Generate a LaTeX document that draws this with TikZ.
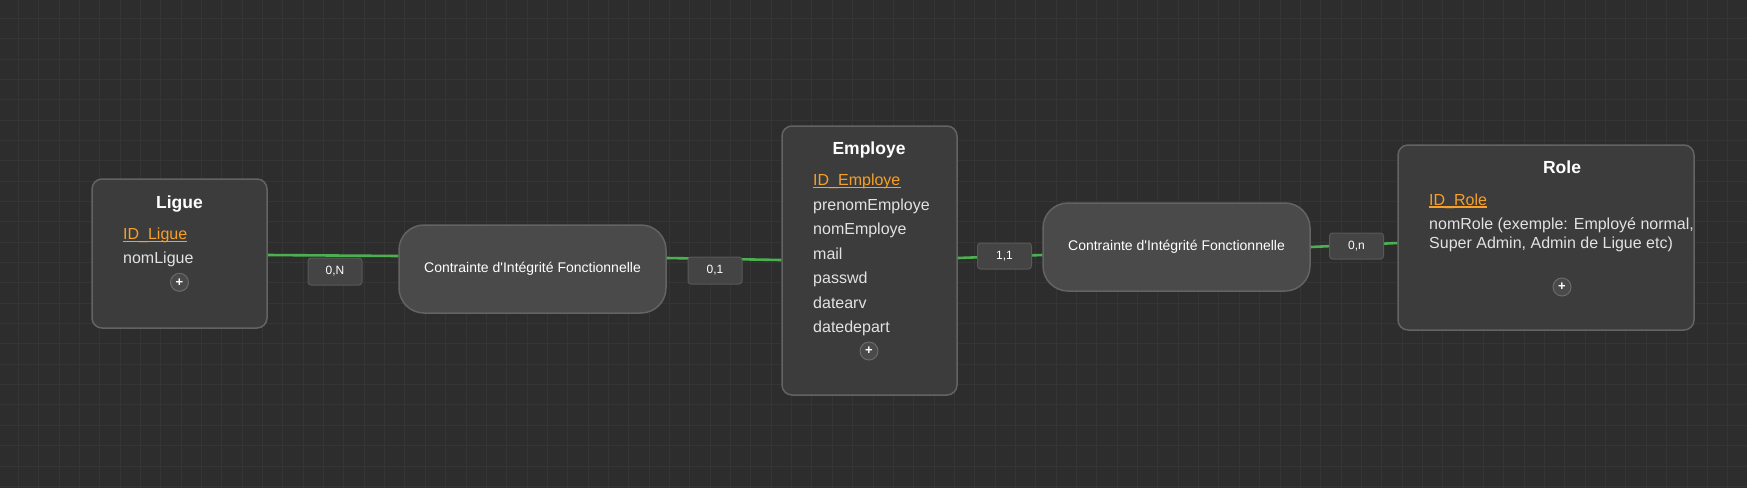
\documentclass[tikz,border=0pt]{standalone}
\usepackage{fontspec}
\setmainfont{Liberation Sans}
\definecolor{bgc}{HTML}{2D2D2D}
\definecolor{gridc}{HTML}{353535}
\definecolor{entfill}{HTML}{3C3C3C}
\definecolor{entdraw}{HTML}{636363}
\definecolor{relfill}{HTML}{4A4A4A}
\definecolor{reldraw}{HTML}{636363}
\definecolor{labfill}{HTML}{444444}
\definecolor{labdraw}{HTML}{585858}
\definecolor{attrc}{HTML}{E2E2E2}
\definecolor{idc}{HTML}{F5A028}
\definecolor{edgec}{HTML}{4CAF50}
\definecolor{plusfill}{HTML}{4A4A4A}
\definecolor{plusdraw}{HTML}{6A6A6A}
\tikzset{
  entity/.style={draw=entdraw, fill=entfill, line width=1.5pt, rounded corners=10pt, inner sep=0pt},
  relbox/.style={draw=reldraw, fill=relfill, line width=1.5pt, rounded corners=25pt, inner sep=0pt,
     minimum width=267pt, minimum height=88pt, text=white, font=\fontsize{14}{17}\selectfont},
  card/.style={draw=labdraw, fill=labfill, line width=1pt, rounded corners=3pt, inner sep=0pt,
     minimum width=54pt, minimum height=27pt, text=white, font=\fontsize{12}{14}\selectfont},
  title/.style={anchor=base, inner sep=0pt, text=white, font=\fontsize{17.5}{20}\selectfont\bfseries},
  attr/.style={anchor=base west, inner sep=0pt, text=attrc, font=\fontsize{16}{19}\selectfont},
  idattr/.style={attr, text=idc},
  idline/.style={draw=idc, line width=1.3pt},
  plusbtn/.style={circle, draw=plusdraw, fill=plusfill, line width=1pt, minimum size=18pt, inner sep=0pt,
     text=white, font=\fontsize{13}{13}\selectfont\bfseries},
  conn/.style={draw=edgec, line width=2.6pt}
}
\begin{document}
\begin{tikzpicture}[x=1pt, y=-1pt]
\useasboundingbox (0,0) rectangle (1747,488);
\fill[bgc] (0,0) rectangle (1747,488);
\foreach \i in {0,...,85} \draw[gridc, line width=1pt] ({18.3+20.35*\i},0) -- ({18.3+20.35*\i},488);
\foreach \j in {0,...,23} \draw[gridc, line width=1pt] (0,{18.3+20.35*\j}) -- (1747,{18.3+20.35*\j});

% boxes
\node[entity, minimum width=175pt, minimum height=149pt] (ligue) at (179.5,253.5) {};
\node[relbox] (c1) at (532.5,269) {Contrainte d\textquotesingle Intégrité Fonctionnelle};
\node[entity, minimum width=175pt, minimum height=269pt] (emp) at (869.5,260.5) {};
\node[relbox] (c2) at (1176.5,247) {Contrainte d\textquotesingle Intégrité Fonctionnelle};
\node[entity, minimum width=296pt, minimum height=185pt] (role) at (1546,237.5) {};

% connectors
\draw[conn] ([yshift=-1.5pt]ligue.east) -- ([yshift=13pt]c1.west);
\draw[conn] ([yshift=11pt]c1.east) -- ([yshift=0.5pt]emp.west);
\draw[conn] ([yshift=2.5pt]emp.east) -- ([yshift=-8pt]c2.west);
\draw[conn] (c2.east) -- ([yshift=-5.5pt]role.west);

% cardinalities
\node[card] (k1) at (335,271.5) {0,N};
\node[card] (k2) at (715,270.5) {0,1};
\node[card, minimum height=26pt] (k3) at (1004.5,256) {1,1};
\node[card, minimum height=26pt] (k4) at (1356.5,246) {0,n};

% Ligue
\node[title] (tl) at (179.5,208) {Ligue};
\node[idattr] (l1) at (123,239.5) {ID\_Ligue};
\draw[idline] ([yshift=-2pt]l1.base west) -- ([yshift=-2pt]l1.base east);
\node[attr] (l2) at (123,263) {nomLigue};
\node[plusbtn] (pl) at (179.5,282.3) {+};

% Employe
\node[title] (te) at (869,154) {Employe};
\node[idattr] (e1) at (813,185.7) {ID\_Employe};
\draw[idline] ([yshift=-2pt]e1.base west) -- ([yshift=-2pt]e1.base east);
\node[attr] (e2) at (813,210.2) {prenomEmploye};
\node[attr] (e3) at (813,234.7) {nomEmploye};
\node[attr] (e4) at (813,259.2) {mail};
\node[attr] (e5) at (813,283.7) {passwd};
\node[attr] (e6) at (813,308.2) {datearv};
\node[attr] (e7) at (813,332.7) {datedepart};
\node[plusbtn] (pe) at (869,351) {+};

% Role
\node[title] (tr) at (1562,173.5) {Role};
\node[idattr] (r1) at (1429,205) {ID\_Role};
\draw[idline] ([yshift=-2pt]r1.base west) -- ([yshift=-2pt]r1.base east);
\node[attr] (r2) at (1429,229) {nomRole (exemple: Employé normal,};
\node[attr] (r3) at (1429,248.5) {Super Admin, Admin de Ligue etc)};
\node[plusbtn] (pr) at (1562,287) {+};
\end{tikzpicture}
\end{document}
